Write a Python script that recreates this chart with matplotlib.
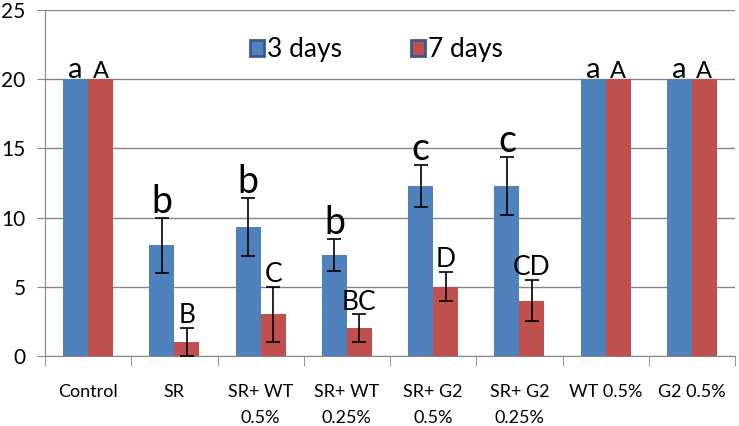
import numpy as np
import matplotlib
matplotlib.use('Agg')
import matplotlib.pyplot as plt
from matplotlib.patches import Patch

plt.rcParams['font.family'] = ['Lato', 'DejaVu Sans']

# 데이터
categories = ['Control', 'SR', 'SR+ WT\n0.5%', 'SR+ WT\n0.25%',
              'SR+ G2\n0.5%', 'SR+ G2\n0.25%', 'WT 0.5%', 'G2 0.5%']
days3 = [20, 8, 9.3, 7.3, 12.3, 12.3, 20, 20]
days7 = [20, 1, 3, 2, 5, 4, 20, 20]
err3 = [0, 2, 2.1, 1.15, 1.5, 2.1, 0, 0]
err7 = [0, 1, 2, 1, 1.05, 1.5, 0, 0]
letters3 = ['a', 'b', 'b', 'b', 'c', 'c', 'a', 'a']
letters7 = ['A', 'B', 'C', 'BC', 'D', 'CD', 'A', 'A']
yticks = [0, 5, 10, 15, 20, 25]

BLUE = '#4F81BD'
RED = '#C0504D'
GRID = '#868686'


def plot_chart():
    fig = plt.figure(figsize=(7.39, 4.26), dpi=100)
    ax = fig.add_axes([0.0609, 0.1643, 0.9337, 0.8122])

    x = np.arange(len(categories))
    w = 0.29

    # 막대
    ax.bar(x - w / 2, days3, w, color=BLUE, zorder=2)
    ax.bar(x + w / 2, days7, w, color=RED, zorder=2)

    # 오차 막대 (0인 것은 제외)
    for i in range(len(categories)):
        if err3[i] > 0:
            ax.errorbar(x[i] - w / 2, days3[i], yerr=err3[i], fmt='none',
                        ecolor='black', elinewidth=1.2, capsize=5, capthick=1.2, zorder=3)
        if err7[i] > 0:
            ax.errorbar(x[i] + w / 2, days7[i], yerr=err7[i], fmt='none',
                        ecolor='black', elinewidth=1.2, capsize=5, capthick=1.2, zorder=3)

    # 문자 표시
    for i in range(len(categories)):
        top3 = days3[i] + err3[i]
        top7 = days7[i] + err7[i]
        if letters3[i] == 'a':
            ax.text(x[i] - w / 2, top3 + 0.12, letters3[i], ha='center', va='baseline',
                    fontsize=21, zorder=4)
        else:
            ax.text(x[i] - w / 2, top3 + 0.35, letters3[i], ha='center', va='baseline',
                    fontsize=27, zorder=4)
        if letters7[i] == 'A':
            ax.text(x[i] + w / 2, top7 + 0.12, letters7[i], ha='center', va='baseline',
                    fontsize=17, zorder=4)
        else:
            ax.text(x[i] + w / 2, top7 + 0.35, letters7[i], ha='center', va='baseline',
                    fontsize=19, zorder=4)

    # 축 설정
    ax.set_xlim(-0.5, len(categories) - 0.5)
    ax.set_ylim(0, 25)
    ax.set_yticks(yticks)
    ax.tick_params(axis='y', labelsize=15, length=6, color=GRID, pad=8)
    ax.set_xticks(x)
    ax.set_xticklabels(categories, fontsize=13, linespacing=1.75, va='top')
    ax.set_xticks(np.arange(-0.5, len(categories)), minor=True)
    ax.tick_params(axis='x', which='major', length=0, pad=20)
    ax.tick_params(axis='x', which='minor', length=7, color=GRID)

    ax.grid(axis='y', color=GRID, linewidth=1, zorder=0)
    ax.set_axisbelow(True)
    for s in ['top', 'right']:
        ax.spines[s].set_visible(False)
    ax.spines['left'].set_color(GRID)
    ax.spines['bottom'].set_color(GRID)

    # 범례
    handles = [Patch(facecolor=BLUE, edgecolor='#385D8A', linewidth=2, label='3 days'),
               Patch(facecolor=RED, edgecolor='#385D8A', linewidth=2, label='7 days')]
    ax.legend(handles=handles, loc='upper center', bbox_to_anchor=(0.48, 0.99), ncol=2,
              frameon=False, fontsize=19, handlelength=0.55, handleheight=0.55,
              handletextpad=0.1, columnspacing=2.6)

    fig.savefig('out.png', dpi=100)


if __name__ == "__main__":
    plot_chart()
